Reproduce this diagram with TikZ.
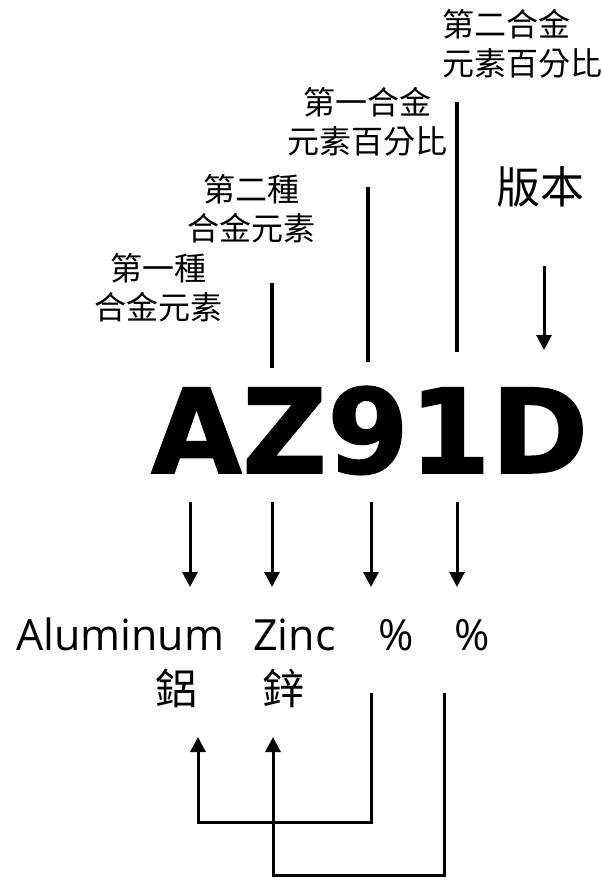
\documentclass[tikz,border=0pt]{standalone}
\usepackage{fontspec}
\newfontfamily\cjk{Noto Sans CJK TC}
\newfontfamily\latin{Open Sans}
\newfontfamily\heavy{DejaVu Sans Bold}[FakeBold=1.5]
\usetikzlibrary{positioning,
				arrows.meta}

\tikzset{
	lbl/.style={font=\cjk\fontsize{32}{39}\selectfont, align=center, inner sep=0pt},
	letter/.style={font=\heavy\fontsize{117}{117}\selectfont, inner sep=0pt},
	word/.style={font=\latin\fontsize{43}{43}\selectfont, inner sep=0pt, anchor=base west},
	elem/.style={font=\cjk\fontsize{42}{42}\selectfont, inner sep=0pt},
	stick/.style={line width=4pt},
	arr/.style={line width=3pt, -{Triangle[width=15pt,length=15pt]}},
}

\begin{document}
\begin{tikzpicture}[x=1pt,y=-1pt]
		\useasboundingbox (0,0) rectangle (602,878);
		% what each part of the grade means
		\node[lbl] (elemA) at (158,288) {第一種\\合金元素};
		\node[lbl] (elemB) at (251,209) {第二種\\合金元素};
		\node[lbl] (pctA) at (367,122) {第一合金\\元素百分比};
		\node[lbl, align=left, anchor=west] (pctB) at (442,44) {第二合金\\元素百分比};
		\node[lbl, font=\cjk\fontsize{44}{44}\selectfont] (ver) at (540,187) {版本};
		% the grade
		\node[letter, anchor=base west] (A) at (151,473) {A};
		\node[letter, base right=0pt of A] (Z) {Z};
		\node[letter, base right=0pt of Z] (nine) {9};
		\node[letter, base right=0pt of nine] (one) {1};
		\node[letter, base right=0pt of one] (D) {D};
		\foreach \i/\x/\ya/\yb in {1/272/283/368, 2/368/187/362, 3/457/102/352}
			\draw[stick] (\x,\ya) coordinate (top\i) -- (\x,\yb) coordinate (bot\i);
		\draw[arr] (544,266) coordinate (verA) -- (544,350) coordinate (verB);
		\foreach \i/\x in {1/190, 2/272, 3/371, 4/457}
			\draw[arr] (\x,502) coordinate (down\i) -- (\x,587) coordinate (tip\i);
		% names
		\node[word] (al) at (16,650) {Aluminum};
		\node[word] (zn) at (253,650) {Zinc};
		\node[word] (p1) at (378,650) {\%};
		\node[word] (p2) at (454,650) {\%};
		\node[elem] (alzh) at (176,688) {鋁};
		\node[elem] (znzh) at (283,688) {鋅};
		\draw[arr] (371,693) coordinate (fromA) |- (198,822) -- (198,737) coordinate (toA);
		\draw[arr] (444,693) coordinate (fromB) |- (273,875) -- (273,737) coordinate (toB);
\end{tikzpicture}
\end{document}
